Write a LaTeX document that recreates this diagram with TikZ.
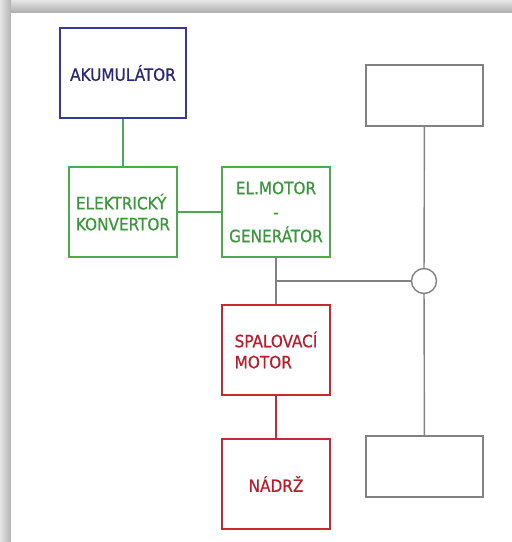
\documentclass[tikz,border=0pt]{standalone}
\usepackage{fontspec}
\setmainfont{DejaVu Sans Condensed}[FakeBold=0.7]
\definecolor{cblue}{RGB}{55,55,160}
\definecolor{cbluet}{RGB}{40,40,115}
\definecolor{cgreen}{RGB}{75,170,75}
\definecolor{cgreent}{RGB}{60,150,60}
\definecolor{cred}{RGB}{200,40,50}
\definecolor{credt}{RGB}{185,30,45}
\definecolor{cgray}{RGB}{130,130,130}
\tikzset{
  box/.style={draw, line width=1.6pt, rectangle, inner sep=0pt, font=\fontsize{17}{21}\selectfont},
  bluebox/.style={box, draw=cblue, text=cbluet, minimum width=126pt, minimum height=90pt},
  greenbox/.style={box, draw=cgreen, text=cgreent, minimum width=108pt, minimum height=90pt},
  redbox/.style={box, draw=cred, text=credt, minimum width=108pt, minimum height=90pt},
  graybox/.style={box, draw=cgray, minimum width=117pt, minimum height=61pt},
  gline/.style={draw=cgreen, line width=1.4pt},
  rline/.style={draw=cred, line width=1.4pt},
  kline/.style={draw=cgray, line width=1.4pt},
}
\begin{document}
\begin{tikzpicture}[x=1pt,y=-1pt]
\useasboundingbox (0,0) rectangle (512,542);
% frame shadow
\fill[gray!40] (0,0) rectangle (512,542);
\shade[top color=gray!20, bottom color=gray!65] (0,0) rectangle (512,13);
\shade[left color=gray!20, right color=gray!60] (0,0) rectangle (11,542);
\fill[white] (11,13) rectangle (512,542);
% boxes
\node[bluebox] (aku) at (123,73) {AKUMULÁTOR};
\node[greenbox, align=left] (ek) at (123,212) {\rule{0pt}{16pt}ELEKTRICKÝ\\KONVERTOR};
\node[greenbox, align=center, font=\fontsize{17}{24}\selectfont] (em) at (276,212) {EL.MOTOR\\-\\GENERÁTOR};
\node[redbox, align=left] (sm) at (276,350) {\rule{0pt}{15pt}SPALOVACÍ\\MOTOR};
\node[redbox] (nd) at (276,484) {NÁDRŽ};
\node[graybox] (tr) at (424.5,95.5) {};
\node[graybox] (br) at (424.5,466.5) {};
\node[draw=cgray, line width=1.4pt, circle, minimum size=25pt, inner sep=0pt] (c) at (424,281) {};
\coordinate (j) at (276,281);
% connectors
\draw[gline] (aku) -- (ek);
\draw[gline] (ek) -- (em);
\draw[kline] (em) -- (sm);
\draw[kline] (j) -- (c);
\draw[rline] (sm) -- (nd);
\draw[kline] (tr) -- (c);
\draw[kline] (c) -- (br);
\end{tikzpicture}
\end{document}
